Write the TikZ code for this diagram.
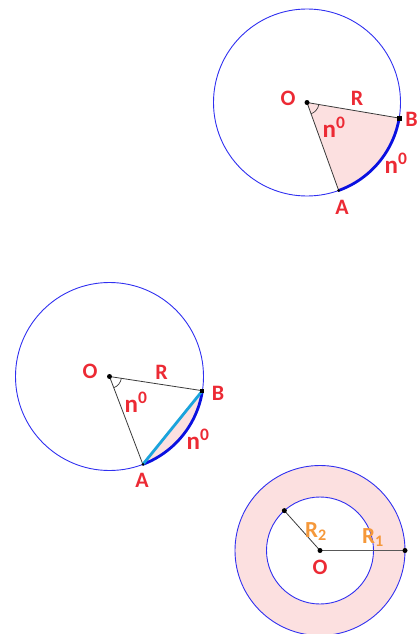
\documentclass[tikz,border=0pt]{standalone}
\usepackage{fontspec}
\setmainfont{Carlito}
\definecolor{circblue}{HTML}{3030F0}
\definecolor{arcblue}{HTML}{0A10E0}
\definecolor{chordcyan}{HTML}{1AA3DC}
\definecolor{sectpink}{HTML}{FCE0E0}
\definecolor{labred}{HTML}{EC2A34}
\definecolor{laborange}{HTML}{F5983A}
\definecolor{radgray}{HTML}{3A3A3A}
\tikzset{
  circ/.style={draw=circblue, line width=0.9pt},
  rad/.style={draw=radgray, line width=0.8pt},
  rad2/.style={draw=radgray!85, line width=1.6pt},
  thickarc/.style={draw=arcblue, line width=2.8pt},
  chord/.style={draw=chordcyan, line width=2.8pt},
  anglemark/.style={draw=radgray, line width=0.7pt},
  lab/.style={text=labred, font=\fontsize{22}{22}\selectfont\bfseries, inner sep=0pt},
  nlab/.style={text=labred, font=\fontsize{25}{25}\selectfont\bfseries, inner sep=0pt},
  olab/.style={text=laborange, font=\fontsize{23}{23}\selectfont\bfseries, inner sep=0pt},
  dot/.style={fill=black, circle, inner sep=0pt, minimum size=5pt},
}
\begin{document}
\begin{tikzpicture}[x=1pt,y=-1pt]
\useasboundingbox (0,0) rectangle (418,634);

% ---------- top circle (sector) ----------
\coordinate (O1) at (307,102.5);
\coordinate (B1) at ([shift={(9.6:93.5)}]O1);
\coordinate (A1) at ([shift={(70.2:93.5)}]O1);
\fill[sectpink] (O1) -- (B1) arc[start angle=9.6, end angle=70.2, radius=93.5] -- cycle;
\draw[circ] (O1) circle[radius=93.5];
\draw[rad] (O1) -- (B1);
\draw[rad] (O1) -- (A1);
\draw[thickarc] (B1) arc[start angle=9.6, end angle=70.2, radius=93.5];
\draw[anglemark] ([shift={(9.6:12)}]O1) arc[start angle=9.6, end angle=70.2, radius=12];
\node[dot] (dO1) at (O1) {};
\node[fill=black, inner sep=0pt, minimum size=5pt] (dB1) at (B1) {};
\node[dot, minimum size=3pt] (dA1) at (A1) {};
\node[lab] (tO1) at (288,98) {O};
\node[lab] (tR1) at (357,98.5) {R};
\node[lab] (tB1) at (411.5,119) {B};
\node[lab] (tA1) at (342,207) {A};
\node[nlab] (tn1) at (334,127) {n\textsuperscript{0}};
\node[nlab] (tn1b) at (396,163) {n\textsuperscript{0}};

% ---------- middle circle (segment) ----------
\coordinate (O2) at (109.5,376.5);
\coordinate (B2) at ([shift={(8.7:94)}]O2);
\coordinate (A2) at ([shift={(69.2:94)}]O2);
\fill[sectpink] (B2) arc[start angle=8.7, end angle=69.2, radius=94] -- cycle;
\draw[circ] (O2) circle[radius=94];
\draw[rad] (O2) -- (B2);
\draw[rad] (O2) -- (A2);
\draw[thickarc] (B2) arc[start angle=8.7, end angle=69.2, radius=94];
\draw[chord] (A2) -- (B2);
\draw[anglemark] ([shift={(8.7:12)}]O2) arc[start angle=8.7, end angle=69.2, radius=12];
\node[dot] (dO2) at (O2) {};
\node[fill=black, inner sep=0pt, minimum size=4pt] (dB2) at (B2) {};
\node[dot, minimum size=3pt] (dA2) at (A2) {};
\node[lab] (tO2) at (90,371.5) {O};
\node[lab] (tR2) at (161.5,372.5) {R};
\node[lab] (tB2) at (218,393) {B};
\node[lab] (tA2) at (142,480) {A};
\node[nlab] (tn2) at (136,402) {n\textsuperscript{0}};
\node[nlab] (tn2b) at (198,439) {n\textsuperscript{0}};

% ---------- bottom (annulus) ----------
\coordinate (O3) at (320,550.5);
\coordinate (P3) at ([shift={(228.2:53.5)}]O3);
\coordinate (Q3) at ([shift={(0:85)}]O3);
\fill[sectpink, even odd rule] (O3) circle[radius=85] (O3) circle[radius=53.5];
\draw[circ] (O3) circle[radius=85];
\draw[circ] (O3) circle[radius=53.5];
\draw[rad2] (O3) -- (Q3);
\draw[rad] (O3) -- (P3);
\node[dot] (dO3) at (O3) {};
\node[dot] (dP3) at (P3) {};
\node[dot] (dQ3) at (Q3) {};
\node[olab] (tR2b) at (316,531.5) {R\textsubscript{2}};
\node[olab] (tR1b) at (373,537.5) {R\textsubscript{1}};
\node[lab] (tO3) at (320,567) {O};
\end{tikzpicture}
\end{document}
